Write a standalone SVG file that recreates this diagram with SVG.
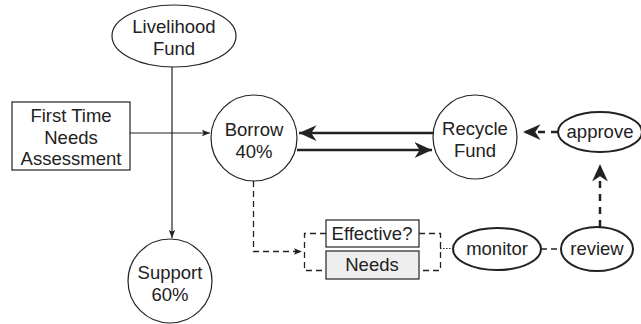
<svg xmlns="http://www.w3.org/2000/svg" width="641" height="324" viewBox="0 0 641 324">
<defs>
<style>
text{font-family:"Liberation Sans","Open Sans",sans-serif;font-size:18.5px;fill:#222;text-anchor:middle}
.n{fill:#fff;stroke:#222;stroke-width:1.2}
.b{fill:#fff;stroke:#222;stroke-width:2}
.l{fill:none;stroke:#222;stroke-width:1.2}
.t{fill:none;stroke:#222;stroke-width:2.5}
.d{fill:none;stroke:#222;stroke-width:1.3;stroke-dasharray:6 4}
.dt{fill:none;stroke:#222;stroke-width:2.5;stroke-dasharray:7 6}
</style>
<marker id="a" viewBox="0 0 10 10" refX="10" refY="5" markerWidth="8" markerHeight="8" markerUnits="userSpaceOnUse" orient="auto"><path d="M0,1 L10,5 L0,9 L2,5 Z" fill="#222"/></marker>
<marker id="ab" viewBox="0 0 10 10" refX="10" refY="5" markerWidth="7" markerHeight="7" orient="auto"><path d="M0,0.5 L10,5 L0,9.5 L3,5 Z" fill="#222"/></marker>
</defs>
<g id="connectors">
<line class="l" x1="172" y1="67" x2="172" y2="238" marker-end="url(#a)"/>
<line class="l" x1="130" y1="133" x2="210" y2="133" marker-end="url(#a)"/>
<line class="t" x1="433" y1="133" x2="299" y2="133" marker-end="url(#ab)"/>
<line class="t" x1="297" y1="150" x2="432" y2="150" marker-end="url(#ab)"/>
<path class="d" d="M253.5,181 V251.5 H302" marker-end="url(#a)"/>
<path class="d" d="M326,233.5 H304.5 V270.5 H326"/>
<path class="d" d="M419,233.5 H440.5 V270.5 H419"/>
<line class="l" x1="440" y1="248.5" x2="453" y2="248.5" stroke-dasharray="1.5 1.5"/>
<line class="d" x1="541" y1="249" x2="561" y2="249" stroke-width="1.8"/>
<line class="dt" x1="558" y1="132" x2="523" y2="132" stroke-dasharray="6 5" marker-end="url(#ab)"/>
<line class="dt" x1="600" y1="227" x2="600" y2="164" marker-end="url(#ab)"/>
</g>
<g id="livelihood"><ellipse class="n" cx="174" cy="36" rx="62" ry="31"/><text x="174" y="33">Livelihood</text><text x="174" y="54.5">Fund</text></g>
<g id="needs-assessment"><rect class="n" x="12" y="102" width="118" height="68"/><text x="71" y="122">First Time</text><text x="71" y="143.5">Needs</text><text x="71" y="165">Assessment</text></g>
<g id="borrow"><circle class="n" cx="254" cy="138" r="43"/><text x="254" y="136">Borrow</text><text x="254" y="157.5">40%</text></g>
<g id="recycle"><circle class="n" cx="475" cy="137" r="42"/><text x="475" y="135">Recycle</text><text x="475" y="156.5">Fund</text></g>
<g id="approve"><ellipse class="b" cx="600" cy="132" rx="42" ry="20"/><text x="600" y="138">approve</text></g>
<g id="review"><ellipse class="b" cx="597" cy="249" rx="36" ry="22"/><text x="597" y="255">review</text></g>
<g id="monitor"><ellipse class="b" cx="497" cy="249" rx="44" ry="21"/><text x="497" y="255">monitor</text></g>
<g id="effective"><rect class="n" x="326" y="220" width="93" height="27"/><text x="372" y="240">Effective?</text></g>
<g id="needs"><rect class="n" x="326" y="251" width="93" height="28" style="fill:#eee"/><text x="372" y="271">Needs</text></g>
<g id="support"><circle class="n" cx="170" cy="281" r="42"/><text x="170" y="279">Support</text><text x="170" y="300.5">60%</text></g>
</svg>
